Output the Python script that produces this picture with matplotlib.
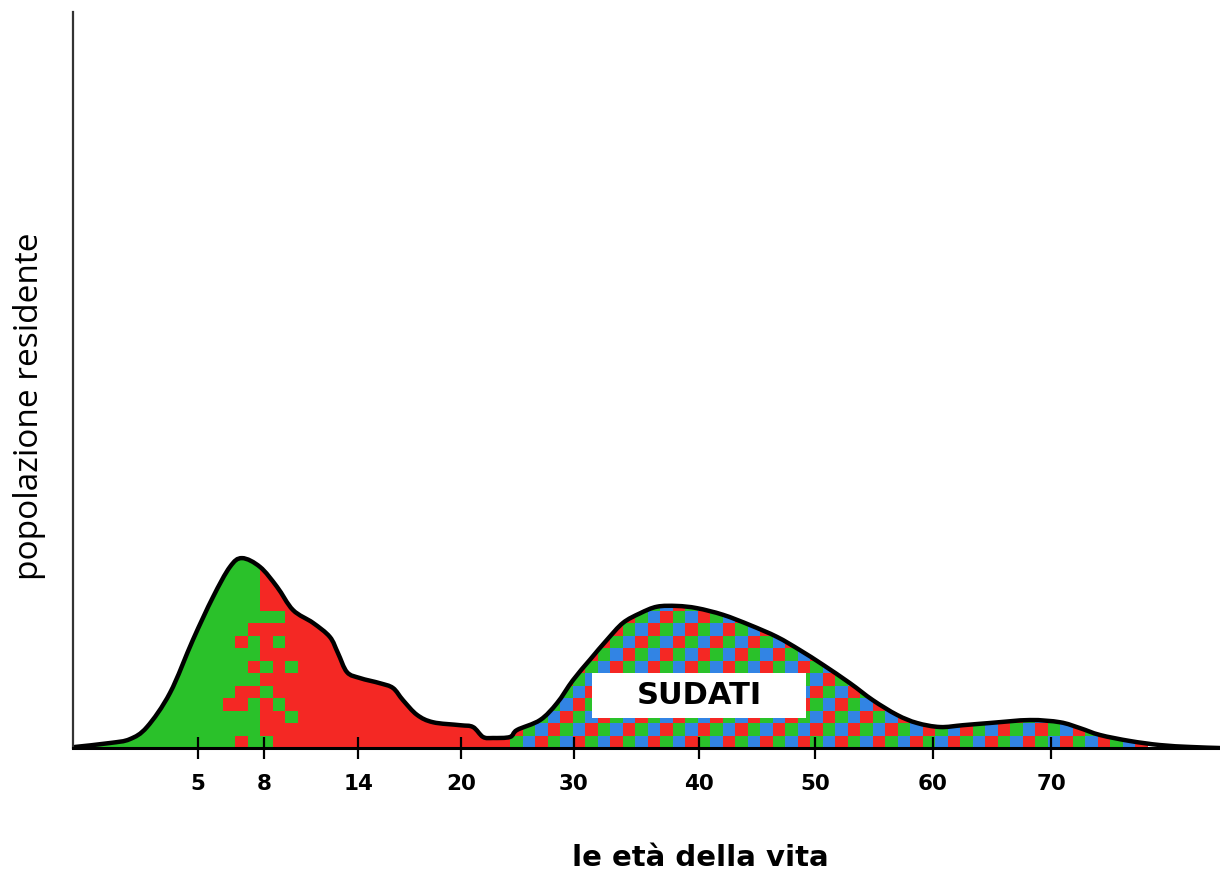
import numpy as np
import matplotlib
matplotlib.use("Agg")
import matplotlib.pyplot as plt
from matplotlib.patches import Rectangle, PathPatch
from matplotlib.path import Path

# curva della popolazione residente per età (unità arbitrarie, 0-100)
eta = [-0.6, 1.0, 1.9, 2.68, 3.73, 4.77, 5.68, 6.45, 7.0, 7.82, 8.83, 9.85,
       11.13, 12.2, 12.72, 13.3, 14.12, 15.28, 16.04, 16.62, 17.44, 18.37,
       19.94, 21.06, 21.95, 22.83, 24.34, 24.96, 27.0, 28.5, 29.9, 31.28,
       32.64, 33.92, 35.28, 36.64, 38.24, 39.84, 42.07, 44.4, 46.72, 48.7,
       50.68, 52.97, 54.9, 56.95, 58.64, 60.6, 62.54, 64.83, 68.2, 70.76,
       72.46, 74.15, 76.7, 79.24, 81.8, 84.3]
popolazione = [0.14, 0.68, 1.2, 2.85, 7.5, 14.7, 20.5, 24.6, 25.8, 24.6, 21.9,
               18.75, 17.0, 15.1, 12.9, 10.3, 9.5, 8.8, 8.15, 6.5, 4.5, 3.5,
               3.1, 2.85, 1.5, 1.36, 1.5, 2.45, 3.8, 6.1, 9.2, 12.0, 14.7,
               17.0, 18.3, 19.2, 19.3, 19.0, 18.1, 16.7, 15.1, 13.3, 11.3, 8.8,
               6.5, 4.5, 3.4, 2.85, 3.1, 3.4, 3.8, 3.5, 2.7, 1.77, 0.95, 0.4,
               0.14, 0.0]

tick_eta = [5, 8, 14, 20, 30, 40, 50, 60, 70]

# confini delle fasce colorate
fine_infanzia = 8
inizio_sudati = 24.5
fine_sudati = 78

# asse x non lineare: età -> posizione
scala_eta = [-5, 5, 8, 14, 20, 30, 40, 50, 60, 70, 100]
scala_pos = [-95, 125, 191, 285, 388, 501, 626, 742, 860, 978, 1332]


def avanti(x):
    return np.interp(x, scala_eta, scala_pos)


def indietro(p):
    return np.interp(p, scala_pos, scala_eta)


VERDE = np.array([42, 193, 42]) / 255
ROSSO = np.array([244, 40, 36]) / 255
BLU = np.array([50, 132, 228]) / 255
TRAMA = [BLU, ROSSO, VERDE]

fig = plt.figure(figsize=(12.2, 8.76), dpi=100)
ax = fig.add_axes([73 / 1220, 128 / 876, 1147 / 1220, 736 / 876])
ax.set_xscale("function", functions=(avanti, indietro))

# curva morbida (bezier tipo catmull-rom) costruita sui punti letti
P = np.column_stack([avanti(np.array(eta)), np.array(popolazione)])
n = len(P)
verts = [P[0]]
codes = [Path.MOVETO]
for i in range(n - 1):
    p0, p1 = P[max(i - 1, 0)], P[i]
    p2, p3 = P[i + 1], P[min(i + 2, n - 1)]
    verts += [p1 + (p2 - p0) / 6, p2 - (p3 - p1) / 6, p2]
    codes += [Path.CURVE4] * 3
verts = np.array(verts)
verts[:, 0] = indietro(verts[:, 0])
curva = Path(verts, codes)
chiusa = Path(np.vstack([verts, [[eta[-1], 0], [eta[0], 0], [eta[0], 0]]]),
              codes + [Path.LINETO, Path.LINETO, Path.CLOSEPOLY])

# texture a quadretti
ax_w = ax.get_position().width * fig.get_figwidth() * fig.dpi
ax_h = ax.get_position().height * fig.get_figheight() * fig.dpi
cella = 12.5
ncol = int(np.ceil(ax_w / cella))
nrow = int(np.ceil(ax_h / cella))
pos_max = 1147
img = np.ones((nrow, ncol, 3))
confine = None
for c in range(ncol):
    a = indietro((c + 0.5) * cella * pos_max / ax_w)
    for r in range(nrow):
        if a < fine_infanzia:
            img[r, c] = VERDE
        elif a < inizio_sudati:
            img[r, c] = ROSSO
        elif a < fine_sudati:
            img[r, c] = TRAMA[(c - r) % 3]
    if confine is None and a >= fine_infanzia:
        confine = c

# passaggio frastagliato verde/rosso
rossi = [(-2, 0), (-3, 3), (-2, 3), (-2, 4), (-1, 4), (-1, 6), (-2, 8), (-1, 9)]
verdi = [(0, 0), (2, 2), (1, 3), (0, 4), (2, 6), (0, 6), (1, 8), (0, 10), (1, 10)]
for dc, r in rossi:
    img[r, confine + dc] = ROSSO
for dc, r in verdi:
    img[r, confine + dc] = VERDE

im = ax.imshow(img, origin="lower", interpolation="nearest", aspect="auto",
               extent=(0, ncol * cella / ax_w, 0, nrow * cella / ax_h),
               transform=ax.transAxes, zorder=1)
im.set_clip_path(chiusa, ax.transData)

ax.add_patch(PathPatch(curva, facecolor="none", edgecolor="black", lw=3.2,
                       joinstyle="round", capstyle="round", zorder=2))

# etichetta SUDATI
ax.add_patch(Rectangle((31.4, 4.1), 17.8, 6.1, facecolor="white",
                       edgecolor="none", zorder=3))
ax.text(40.0, 7.15, "SUDATI", ha="center", va="center", fontsize=22,
        fontweight="bold", family="DejaVu Sans", zorder=4)

ax.set_xlim(indietro(0), indietro(pos_max))
ax.set_ylim(0, 100)
ax.set_xticks(tick_eta)
ax.set_xticklabels([str(t) for t in tick_eta], family="DejaVu Sans",
                   fontweight="bold", fontsize=15.5)
ax.set_yticks([])
ax.tick_params(axis="x", direction="inout", length=16, width=1.6, pad=11,
               color="black")

for s in ["top", "right"]:
    ax.spines[s].set_visible(False)
ax.spines["left"].set_color("#333333")
ax.spines["left"].set_linewidth(1.6)
ax.spines["bottom"].set_linewidth(2.2)

ax.set_xlabel("le età della vita", family="DejaVu Sans",
              fontweight="bold", fontsize=21, va="center")
ax.xaxis.set_label_coords(0.547, -0.1495)
ax.set_ylabel("popolazione residente", family=["Open Sans", "DejaVu Sans"],
              fontsize=24, va="center")
ax.yaxis.set_label_coords(-0.0375, 0.465)

fig.savefig("out.png", dpi=100)
